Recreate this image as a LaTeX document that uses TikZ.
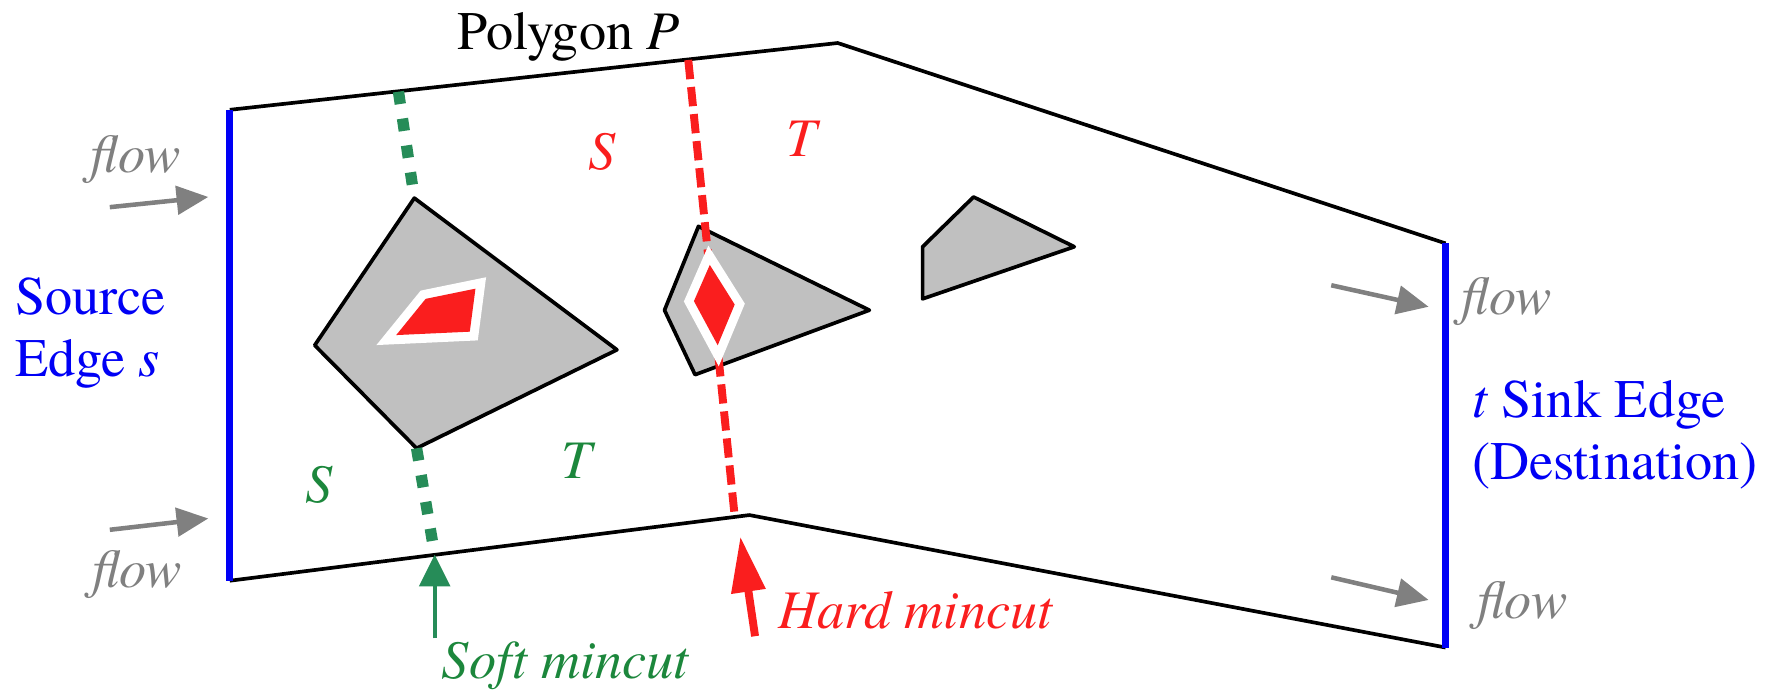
\documentclass[tikz,border=0pt]{standalone}
\usepackage{fontspec}
\setmainfont{texgyretermes}[Extension=.otf, UprightFont=*-regular, ItalicFont=*-italic, BoldFont=*-bold, BoldItalicFont=*-bolditalic]
\usetikzlibrary{arrows.meta}
\definecolor{cutgreen}{RGB}{38,140,88}
\definecolor{txtgreen}{RGB}{28,135,60}
\definecolor{cutred}{RGB}{250,30,30}
\definecolor{obst}{RGB}{192,192,192}
\definecolor{flowgray}{RGB}{128,128,128}
\definecolor{edgeblue}{RGB}{0,0,245}
\begin{document}
\begin{tikzpicture}[x=0.2mm, y=-0.2mm, font=\fontsize{27.3}{33}\selectfont,
  border/.style={draw=black, line width=0.65mm, line join=round},
  obstacle/.style={border, fill=obst},
  hole/.style={fill=cutred, preaction={draw=white, line width=3.2mm, line join=miter}},
  stedge/.style={edgeblue, line width=1.2mm},
  flowarr/.style={flowgray, line width=0.8mm, -{Triangle[length=5.6mm, width=5mm]}},
  softcut/.style={cutgreen, line width=2mm, dash pattern=on 2.2mm off 2.6mm},
  hardcut/.style={cutred, line width=1.4mm, dash pattern=on 3.4mm off 1.4mm},
  lbl/.style={inner sep=0pt, anchor=base west},
  letter/.style={inner sep=0pt, font=\fontsize{27.3}{33}\selectfont\itshape}]
    \useasboundingbox (0,0) rectangle (1568,610);
    % outer polygon P
    \coordinate (a) at (203,97);
    \coordinate (b) at (740,38);
    \coordinate (c) at (1277,215);
    \coordinate (d) at (1277,572);
    \coordinate (e) at (662,455);
    \coordinate (f) at (203,513);
    \draw[border] (a) -- (b) -- (c) (d) -- (e) -- (f);
    \draw[stedge] (f) -- (a);
    \draw[stedge] (c) -- (d);
    % obstacles
    \draw[obstacle] (366,175) coordinate (q1) -- (545,309) -- (368,396) coordinate (q3) -- (278,305) -- cycle;
    \draw[obstacle] (617,200) -- (768,274) -- (614,331) -- (587,274) -- cycle;
    \draw[obstacle] (860,174) -- (949,218) -- (815,264) -- (815,218) -- cycle;
    % cuts
    \coordinate (h0) at (608,53);
    \coordinate (h1) at (649,456);
    \draw[hardcut] (h0) -- (h1);
    \path[hole] (350,296) -- (376,264) -- (420,255) -- (415,293) -- cycle;
    \path[hole] (627,234) -- (649,269) -- (634,305) -- (613,266) -- cycle;
    \coordinate (g0) at (352,81);
    \coordinate (g4) at (384,490);
    \draw[softcut] (g0) -- (q1);
    \draw[softcut] (q3) -- (g4);
    % flow arrows
    \coordinate (in1) at (97,183);  \coordinate (in1e) at (184,174);
    \coordinate (in2) at (97,468);  \coordinate (in2e) at (184,458);
    \coordinate (out1) at (1176,252); \coordinate (out1e) at (1262,271);
    \coordinate (out2) at (1176,510); \coordinate (out2e) at (1262,530);
    \draw[flowarr] (in1) -- (in1e);
    \draw[flowarr] (in2) -- (in2e);
    \draw[flowarr] (out1) -- (out1e);
    \draw[flowarr] (out2) -- (out2e);
    % mincut arrows
    \coordinate (sa) at (384,564);
    \coordinate (ha) at (667,562);
    \coordinate (hb) at (654,474);
    \draw[cutgreen, line width=0.7mm, -{Triangle[length=5.6mm, width=5.4mm]}] (sa) -- (g4);
    \draw[cutred, line width=1.4mm, -{Triangle[length=9.8mm, width=5.8mm]}] (ha) -- (hb);
    % labels
    \node[lbl] (poly) at (404,44) {Polygon \textit{P}};
    \node[letter, cutred] (rs) at (532,134) {S};
    \node[letter, cutred] (rt) at (708,123) {T};
    \node[letter, txtgreen] (gs) at (282,428) {S};
    \node[letter, txtgreen] (gt) at (509,407) {T};
    \node[lbl, flowgray] (fl1) at (80,152) {\textit{flow}};
    \node[lbl, flowgray] (fl2) at (81,519) {\textit{flow}};
    \node[lbl, flowgray] (fl3) at (1291,278) {\textit{flow}};
    \node[lbl, flowgray] (fl4) at (1305,546) {\textit{flow}};
    \node[lbl, edgeblue] (src1) at (13,278) {Source};
    \node[lbl, edgeblue] (src2) at (13,333) {Edge \textit{s}};
    \node[lbl, edgeblue] (snk1) at (1300,369) {\textit{t} Sink Edge};
    \node[lbl, edgeblue] (snk2) at (1300,424) {(Destination)};
    \node[lbl, txtgreen] (soft) at (390,599) {\textit{Soft mincut}};
    \node[lbl, cutred] (hard) at (687,555) {\textit{Hard mincut}};
\end{tikzpicture}
\end{document}
